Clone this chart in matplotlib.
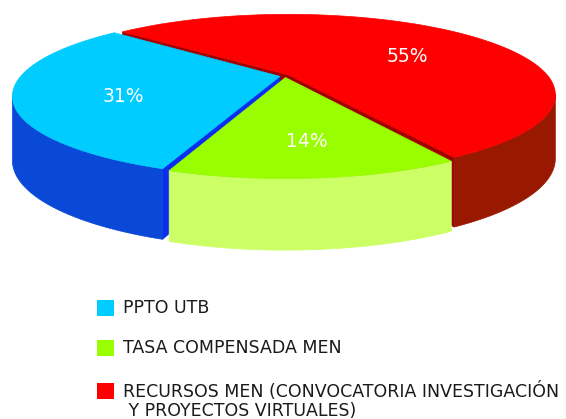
import numpy as np
import matplotlib.pyplot as plt
from matplotlib.patches import Polygon, Rectangle

# datos del grafico
etiquetas = ['PPTO UTB', 'TASA COMPENSADA MEN',
             'RECURSOS MEN (CONVOCATORIA INVESTIGACIÓN\n Y PROYECTOS VIRTUALES)']
valores = [31, 14, 55]
textos = ['31%', '14%', '55%']

# colores: cara superior, pared, corte
col_top = ['#00CCFF', '#99FF00', '#FF0000']
col_pared = ['#0A48D8', '#CCFF66', '#991900']
col_corte = ['#0A2EF0', '#B8F040', '#A00000']

# geometria de la "torta 3D" en pixeles
CX, CY = 285, 76
A, B = 259, 75.8
K = 0.242         # perspectiva
H, KH = 62, 0.13  # alto de la pared
EXPL = 0.02
INICIO = 138.2


def proyectar(u, v, z):
    s = 1 + K * v
    x = CX + A * u / s
    y = CY - B * v / s + z * H / (1 + KH * v)
    return x, y


def puntos(ang, r, z, off):
    t = np.radians(ang)
    u = r * np.cos(t) + off[0]
    v = r * np.sin(t) + off[1]
    return np.column_stack(proyectar(u, v, z))


fig = plt.figure(figsize=(5.66, 4.19), dpi=100)
ax = fig.add_axes([0, 0, 1, 1])
ax.set_xlim(0, 566)
ax.set_ylim(419, 0)
ax.axis('off')

total = sum(valores)
rangos = []
a0 = INICIO
for v in valores:
    a1 = a0 + 360.0 * v / total
    rangos.append((a0, a1))
    a0 = a1

lim_izq = 180 + np.degrees(np.arcsin(K))
lim_der = 360 - np.degrees(np.arcsin(K))

orden = sorted(range(len(valores)),
               key=lambda i: -np.sin(np.radians(sum(rangos[i]) / 2)))

for i in orden:
    t1, t2 = rangos[i]
    m = np.radians((t1 + t2) / 2)
    off = (EXPL * np.cos(m), EXPL * np.sin(m))

    # caras de corte visibles
    for ang, visible in [(t1, np.cos(np.radians(t1)) > 0),
                         (t2, np.cos(np.radians(t2)) < 0)]:
        if not visible:
            continue
        p = np.vstack([puntos(np.array([ang]), 0, 0, off),
                       puntos(np.array([ang]), 1, 0, off),
                       puntos(np.array([ang]), 1, 1, off),
                       puntos(np.array([ang]), 0, 1, off)])
        ax.add_patch(Polygon(p, closed=True, facecolor=col_corte[i],
                             edgecolor=col_corte[i], lw=0.5))

    # pared exterior
    for sh in (-360, 0, 360):
        lo = max(t1, lim_izq + sh)
        hi = min(t2, lim_der + sh)
        if hi > lo:
            aa = np.linspace(lo, hi, 80)
            p = np.vstack([puntos(aa, 1, 0, off), puntos(aa[::-1], 1, 1, off)])
            ax.add_patch(Polygon(p, closed=True, facecolor=col_pared[i],
                                 edgecolor=col_pared[i], lw=0.5))

    # cara superior
    aa = np.linspace(t1, t2, 200)
    p = np.vstack([puntos(np.array([t1]), 0, 0, off), puntos(aa, 1, 0, off)])
    ax.add_patch(Polygon(p, closed=True, facecolor=col_top[i],
                         edgecolor=col_top[i], lw=0.5))

    # etiqueta de porcentaje
    lx, ly = puntos(np.array([np.degrees(m)]), 0.62, 0, off)[0]
    ax.text(lx + 5, ly + 8, textos[i], color='white', fontsize=13.5,
            ha='center', va='center')

# leyenda
y_leyenda = [308, 348, 391]
for i, et in enumerate(etiquetas):
    ax.add_patch(Rectangle((97, y_leyenda[i] - 8), 17, 16,
                           facecolor=col_top[i], edgecolor='none'))
    ax.text(123, y_leyenda[i] - 9.5, et, fontsize=12.5, color='#1a1a1a',
            ha='left', va='top', linespacing=1.1)

plt.savefig('out.png', dpi=100)
